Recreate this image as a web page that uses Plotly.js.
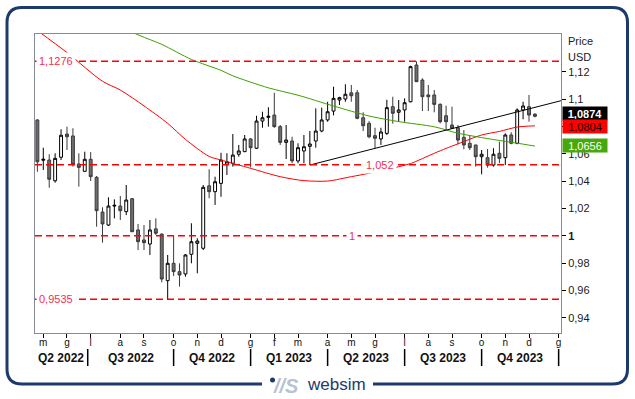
<!DOCTYPE html>
<html>
<head>
<meta charset="utf-8">
<script src="https://cdn.plot.ly/plotly-3.0.1.min.js"></script>
<style>
html,body{margin:0;padding:0;background:#fff;}
#chart{width:635px;height:399px;}
</style>
</head>
<body>
<div id="chart"></div>
<script>
// Weekly EUR/USD candles, index 0 = first week of May 2022
const weekIdx = [];
const open = [1.0847,1.0552,1.0554,1.0402,1.0574,1.0744,1.0730,1.0525,1.0471,1.0559,
1.0427,1.0173,1.0078,1.0217,1.0217,1.0176,1.0271,1.0042,0.9969,0.9939,
1.0050,1.0012,0.9671,0.9798,0.9737,0.9720,0.9864,0.9944,0.9908,1.0365,
1.0322,1.0383,1.0522,1.0530,1.0596,1.0615,1.0708,1.0640,1.0839,1.0866,
1.0883,1.0798,1.0683,1.0693,1.0547,1.0620,1.0654,1.0693,1.0766,1.0847,
1.0912,1.0993,1.1000,1.1046,1.1046,1.0863,1.0822,1.0732,1.0708,1.0749,
1.0944,1.0903,1.0920,1.0980,1.1249,1.1139,1.1030,1.1030,1.0961,1.0878,
1.0810,1.0790,1.0720,1.0676,1.0664,1.0578,1.0571,1.0517,1.0603,1.0571,
1.0737,1.0676,1.0920,1.0944,1.0889];
const high = [1.0852,1.0644,1.0596,1.0603,1.0779,1.0798,1.0786,1.0603,1.0615,1.0612,
1.0437,1.0208,1.0281,1.0266,1.0291,1.0371,1.0276,1.0086,1.0078,1.0115,
1.0127,1.0015,0.9859,0.9998,0.9798,0.9866,1.0091,0.9981,1.0371,1.0486,
1.0432,1.0607,1.0603,1.0744,1.0664,1.0737,1.0715,1.0878,1.0907,1.0940,
1.1046,1.0810,1.0810,1.0724,1.0676,1.0737,1.0766,1.0932,1.0937,1.0980,
1.1090,1.1017,1.1108,1.1103,1.1066,1.0903,1.0839,1.0790,1.0790,1.0995,
1.1017,1.0993,1.1005,1.1244,1.1276,1.1152,1.1103,1.1066,1.0969,1.0951,
1.0944,1.0810,1.0773,1.0737,1.0664,1.0627,1.0634,1.0640,1.0688,1.0749,
1.0757,1.0932,1.0980,1.1030,1.0897];
const low = [1.0468,1.0481,1.0351,1.0388,1.0554,1.0627,1.0505,1.0359,1.0466,1.0400,
1.0066,0.9949,1.0071,1.0127,1.0115,1.0151,1.0027,0.9895,0.9895,0.9859,
1.0005,0.9659,0.9535,0.9705,0.9627,0.9700,0.9798,0.9725,0.9895,1.0274,
1.0225,1.0285,1.0444,1.0505,1.0578,1.0612,1.0500,1.0634,1.0790,1.0798,
1.0790,1.0664,1.0561,1.0530,1.0530,1.0530,1.0517,1.0644,1.0757,1.0834,
1.0880,1.0956,1.0980,1.0980,1.0852,1.0766,1.0713,1.0640,1.0664,1.0737,
1.0820,1.0834,1.0834,1.0976,1.1127,1.0912,1.0912,1.0903,1.0822,1.0773,
1.0781,1.0669,1.0632,1.0627,1.0505,1.0449,1.0498,1.0505,1.0530,1.0517,
1.0669,1.0669,1.0852,1.0834,1.0866];
const close = [1.0541,1.0559,1.0413,1.0566,1.0735,1.0724,1.0522,1.0500,1.0559,1.0432,
1.0183,1.0086,1.0217,1.0222,1.0183,1.0261,1.0029,0.9956,0.9949,1.0042,
1.0018,0.9683,0.9798,0.9737,0.9712,0.9859,0.9956,0.9961,1.0354,1.0322,
1.0395,1.0554,1.0541,1.0590,1.0620,1.0708,1.0644,1.0839,1.0863,1.0874,
1.0798,1.0683,1.0700,1.0547,1.0644,1.0651,1.0671,1.0766,1.0847,1.0907,
1.1005,1.1010,1.1035,1.1024,1.0859,1.0805,1.0724,1.0713,1.0759,1.0937,
1.0896,1.0920,1.0973,1.1237,1.1127,1.1017,1.1017,1.0961,1.0834,1.0834,
1.0786,1.0700,1.0664,1.0644,1.0578,1.0596,1.0517,1.0596,1.0566,1.0737,
1.0676,1.0920,1.0949,1.0883,1.0874];
for (let i = 0; i < open.length; i++) weekIdx.push(i - 1);

// Moving averages (read at selected weeks)
const redIdx = [-1,4,10,13,17,21,24,28,30,35,40,44,48,52,55,60,62,66,68,70,74,77,80,83];
const redVal = [1.1501,1.1340,1.1130,1.1066,1.0950,1.0822,1.0705,1.0580,1.0554,1.0493,1.0432,1.0403,1.0400,1.0432,1.0457,1.0505,1.0528,1.0603,1.0639,1.0672,1.0737,1.0763,1.0795,1.0804];
const greenIdx = [-1,16,20,25,30,32,38,43,49,55,60,66,70,74,78,80,83];
const greenVal = [1.1800,1.1470,1.1400,1.1290,1.1210,1.1170,1.1082,1.1028,1.0949,1.0876,1.0835,1.0797,1.0750,1.0718,1.0690,1.0677,1.0656];

// Support trend line
const trendIdx = [45, 87.4];
const trendVal = [1.0517, 1.0988];

// Horizontal levels
const levels = [1.1276, 1.052, 1, 0.9535];
const levelText = ['1,1276', '1,052', '1', '0,9535'];

// Price tags
const lastPrice = 1.0874, redLast = 1.0804, greenLast = 1.0656;
const tagText = ['1,0874', '1,0804', '1,0656'];

// Axis ticks
const monthIdx = [0,4,8,13,17,22,26,30,35,39,43,48,52,56,61,65,69,74,78,82,87];
const monthTxt = ['m','g','l','a','s','o','n','d','g','f','m','a','m','g','l','a','s','o','n','d','g'];
const quarterStart = [7.5,22,35,48,61,74,87];
const quarterTxt = ['Q2 2022','Q3 2022','Q4 2022','Q1 2023','Q2 2023','Q3 2023','Q4 2023'];
const yTickVals = [0.94,0.96,0.98,1,1.02,1.04,1.06,1.08,1.1,1.12];
const yTickText = ['0,94','0,96','0,98','<b>1</b>','1,02','1,04','1,06','','1,1','1,12'];

// ---------- layout helpers ----------
const W = 635, H = 399, ML = 35, MR = 74, MT = 34, MB = 66;
const PW = W - ML - MR, PH = H - MT - MB;
const px = x => (x - ML) / PW;
const py = y => (H - MB - y) / PH;
const xr = [-1.4, 87.4];
const kx = k => (k - xr[0]) / (xr[1] - xr[0]);
const FONT = 'Arial, "Liberation Sans", sans-serif';
const NAVY = '#1c3a6b';
const LVL = '#ff0000';
const LVLTXT = '#f2304e';

const traces = [
  {type:'candlestick', x: weekIdx, open, high, low, close,
   increasing:{line:{color:'#000', width:1}, fillcolor:'#ffffff'},
   decreasing:{line:{color:'#3a3a3a', width:1}, fillcolor:'#6e6e6e'},
   whiskerwidth:0, hoverinfo:'skip'},
  {type:'scatter', mode:'lines', x: redIdx, y: redVal, line:{color:'#ff0000', width:1, shape:'spline', smoothing:0.8}, hoverinfo:'skip'},
  {type:'scatter', mode:'lines', x: greenIdx, y: greenVal, line:{color:'#3f9e00', width:1, shape:'spline', smoothing:0.8}, hoverinfo:'skip'},
  {type:'scatter', mode:'lines', x: trendIdx, y: trendVal, line:{color:'#000', width:1}, hoverinfo:'skip'}
];

const shapes = [];
levels.forEach(v => shapes.push({type:'line', xref:'paper', yref:'y', x0:0, x1:1, y0:v, y1:v,
  line:{color:LVL, width:1.5, dash:'7px,4px'}, layer:'above'}));

// quarter separators
quarterStart.forEach(k => shapes.push({type:'line', xref:'paper', yref:'paper', x0:kx(k), x1:kx(k),
  y0:py(349), y1:py(366), line:{color:'#000', width:1.5}}));

// outer rounded frame
(function(){
  const x0 = 7, x1 = 627.5, y0 = 7.5, y1 = 384, r = 15;
  const P = (x, y) => px(x).toFixed(5) + ',' + py(y).toFixed(5);
  const path = 'M' + P(x0 + r, y0) + ' L' + P(x1 - r, y0) + ' Q' + P(x1, y0) + ' ' + P(x1, y0 + r) +
    ' L' + P(x1, y1 - r) + ' Q' + P(x1, y1) + ' ' + P(x1 - r, y1) +
    ' L' + P(x0 + r, y1) + ' Q' + P(x0, y1) + ' ' + P(x0, y1 - r) +
    ' L' + P(x0, y0 + r) + ' Q' + P(x0, y0) + ' ' + P(x0 + r, y0) + ' Z';
  shapes.push({type:'path', xref:'paper', yref:'paper', path, line:{color:NAVY, width:3}});
  shapes.push({type:'rect', xref:'paper', yref:'paper', x0:px(262), x1:px(373), y0:py(394), y1:py(376),
    fillcolor:'#ffffff', line:{width:0}});
  shapes.push({type:'circle', xref:'paper', yref:'paper', x0:px(270), x1:px(275), y0:py(382.5), y1:py(377.5),
    fillcolor:NAVY, line:{width:0}});
})();

const annotations = [];
// level labels
const lvlPos = [null, 56.8, 52.1, null];
levels.forEach((v, i) => {
  const a = {text: levelText[i], y: v, yref:'y', yanchor:'middle', showarrow:false, bgcolor:'#ffffff', borderpad:2,
    font:{family:FONT, size:11, color:LVLTXT}};
  if (lvlPos[i] === null) { a.xref = 'paper'; a.x = 0; a.xanchor = 'left'; a.xshift = 1; }
  else { a.xref = 'x'; a.x = lvlPos[i]; a.xanchor = 'center'; }
  annotations.push(a);
});
// price tags on the right axis
annotations.push({xref:'paper', x:1, xanchor:'left', xshift:1, yref:'y', y:lastPrice, yanchor:'middle', yshift:3,
  text:'<b>' + tagText[0] + '</b>', showarrow:false, bgcolor:'#000', width:42, height:11, borderpad:1,
  font:{family:FONT, size:11, color:'#fff'}});
annotations.push({xref:'paper', x:1, xanchor:'left', xshift:1, yref:'y', y:redLast, yanchor:'middle', yshift:-1,
  text:tagText[1], showarrow:false, bgcolor:'#ff0000', width:42, height:11, borderpad:1,
  font:{family:FONT, size:11, color:'#1a0000'}});
annotations.push({xref:'paper', x:1, xanchor:'left', xshift:1, yref:'y', y:greenLast, yanchor:'middle', yshift:1,
  text:tagText[2], showarrow:false, bgcolor:'#46a80a', width:42, height:11, borderpad:1,
  font:{family:FONT, size:11, color:'#fff'}});
// axis captions
annotations.push({xref:'paper', x:px(566), xanchor:'left', yref:'paper', y:py(41), yanchor:'middle', text:'Price',
  showarrow:false, font:{family:FONT, size:11, color:'#222'}});
annotations.push({xref:'paper', x:px(566), xanchor:'left', yref:'paper', y:py(57), yanchor:'middle', text:'USD',
  showarrow:false, font:{family:FONT, size:11, color:'#222'}});
// quarter labels
quarterTxt.forEach((t, i) => {
  const a0 = i === 0 ? xr[0] : quarterStart[i - 1];
  annotations.push({xref:'x', x:(a0 + quarterStart[i]) / 2, xanchor:'center', yref:'paper', y:py(357.5), yanchor:'middle',
    text:'<b>' + t + '</b>', showarrow:false, font:{family:FONT, size:12, color:'#111'}});
});
// logo
annotations.push({xref:'paper', x:px(286), xanchor:'center', yref:'paper', y:py(385.5), yanchor:'middle',
  text:'<b><i>//S</i></b>', showarrow:false, font:{family:FONT, size:20, color:'#b7c2d3'}});
annotations.push({xref:'paper', x:px(336.5), xanchor:'center', yref:'paper', y:py(385), yanchor:'middle',
  text:'websim', showarrow:false, font:{family:FONT, size:17, color:NAVY}});

const layout = {
  width: W, height: H,
  margin: {l:ML, r:MR, t:MT, b:MB, pad:0},
  paper_bgcolor:'#ffffff', plot_bgcolor:'#ffffff',
  showlegend:false,
  font:{family:FONT, size:11, color:'#1a1a1a'},
  xaxis:{type:'linear', range:xr, tickmode:'array', tickvals:monthIdx, ticktext:monthTxt,
    ticks:'outside', ticklen:4, tickwidth:1, tickcolor:'#000', ticklabelstandoff:-4, showgrid:false, zeroline:false,
    showline:true, mirror:true, linecolor:'#8a8a96', linewidth:1,
    tickfont:{family:FONT, size:10, color:'#111'}, rangeslider:{visible:false}, fixedrange:true},
  yaxis:{side:'right', range:[0.9288, 1.1476], tickmode:'array', tickvals:yTickVals, ticktext:yTickText,
    ticks:'outside', ticklen:4, tickwidth:1, tickcolor:'#000', showgrid:false, zeroline:false,
    showline:true, mirror:true, linecolor:'#8a8a96', linewidth:1,
    tickfont:{family:FONT, size:11, color:'#1a1a1a'}, fixedrange:true},
  shapes, annotations
};

Plotly.newPlot('chart', traces, layout, {displayModeBar:false, staticPlot:true});
</script>
</body>
</html>
